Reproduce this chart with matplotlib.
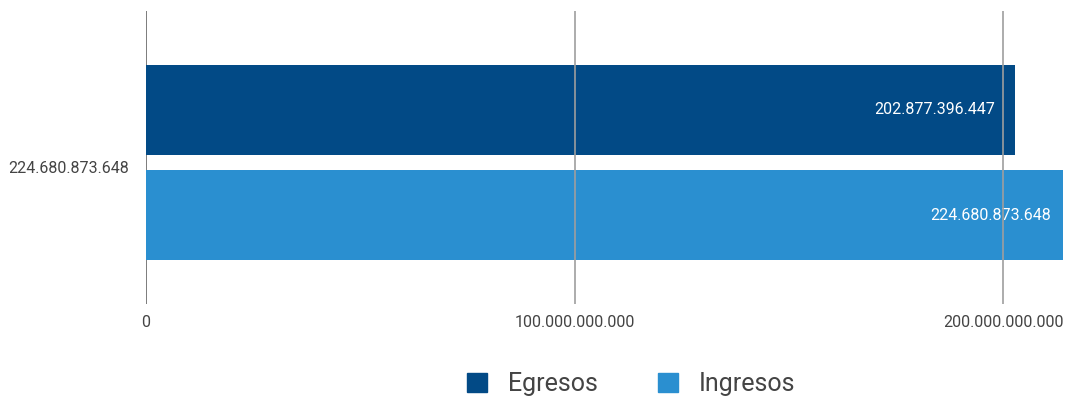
import matplotlib
matplotlib.use("Agg")
import matplotlib.pyplot as plt
from matplotlib.patches import Patch

plt.rcParams['font.family'] = ['Roboto', 'DejaVu Sans']

category = "224.680.873.648"
series = ["Egresos", "Ingresos"]
values = [202877396447, 224680873648]
value_labels = ["202.877.396.447", "224.680.873.648"]
xticks = [0, 100000000000, 200000000000]
xtick_labels = ["0", "100.000.000.000", "200.000.000.000"]

colors = ["#024a86", "#2a8fd0"]
text_color = "#444444"

fig = plt.figure(figsize=(10.68, 4.0), dpi=100)
ax = fig.add_axes([146/1068, 96/400, 917/1068, 293/400])

xmax = 214.0e9
ax.set_xlim(0, xmax)
ax.set_ylim(1.37, -1.56)

offsets = [-0.57, 0.48]
pads = [-20, -12]
for v, lab, c, off, pad in zip(values, value_labels, colors, offsets, pads):
    ax.barh(off, v, height=0.9, color=c, zorder=2)
    ax.annotate(lab, xy=(min(v, xmax), off), xytext=(pad * 0.72, 0),
                textcoords="offset points", ha="right", va="center",
                color="white", fontsize=11.5, zorder=3)

ax.set_xticks(xticks)
ax.set_xticklabels(xtick_labels, color=text_color, fontsize=11.5)
ax.set_yticks([0])
ax.set_yticklabels([category], color=text_color, fontsize=11.5)
ax.tick_params(axis='both', length=0)
ax.tick_params(axis='x', pad=8)
ax.tick_params(axis='y', pad=12)

for t in xticks:
    ax.axvline(t, color="#666666" if t == 0 else "#9e9e9e", lw=1.2, zorder=1 if t == 0 else 4)
for s in ax.spines.values():
    s.set_visible(False)

handles = [Patch(facecolor=c, edgecolor=c) for c in colors]
leg = fig.legend(handles, series, loc="center", bbox_to_anchor=(631/1068, 1 - 384/400),
                 ncol=2, frameon=False, fontsize=18, handlelength=0.8, handleheight=0.8,
                 handletextpad=0.85, columnspacing=2.4, labelcolor=text_color)

fig.savefig("out.png", dpi=100)
